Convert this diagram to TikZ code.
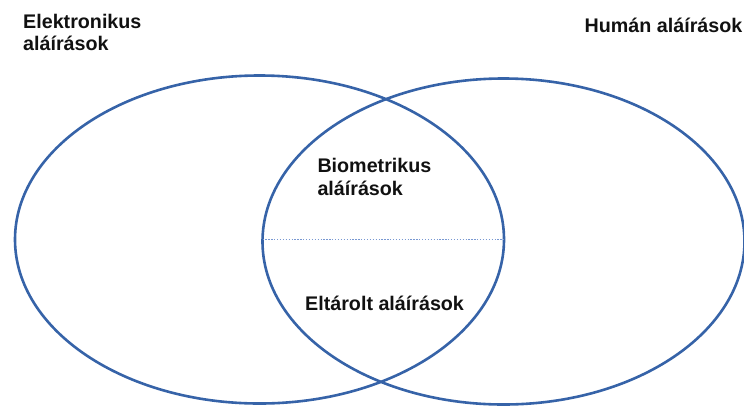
\documentclass[tikz,border=0pt]{standalone}
\usepackage{fontspec}
\setmainfont{Liberation Sans}
\usetikzlibrary{shapes.geometric}
\definecolor{setblue}{RGB}{54,99,168}
\definecolor{dividerblue}{RGB}{120,152,210}
\definecolor{labelink}{RGB}{17,17,17}
\begin{document}
\begin{tikzpicture}[x=1pt,y=-1pt,
  setoval/.style={ellipse,draw=setblue,line width=2.6pt,inner sep=0pt,outer sep=0pt},
  divider/.style={draw=dividerblue,line width=1.2pt,dash pattern=on 1.3pt off 1.6pt},
  setlabel/.style={anchor=base west,inner sep=0pt,align=left,text=labelink,
    font=\bfseries\fontsize{19.7}{22.6}\selectfont}]
  \useasboundingbox (0,0) rectangle (744,405);
  % the two sets
  \node[setoval,minimum width=489pt,minimum height=328pt] (L) at (259.5,239.5) {};
  \node[setoval,minimum width=482pt,minimum height=326pt] (R) at (503.5,241.5) {};
  % boundary between the two parts of the overlap
  \draw[divider] (R.west |- L.east) -- (L.east);
  % labels (placed by the baseline of their last line)
  \node[setlabel] (elab) at (23,50.7) {Elektronikus\\aláírások};
  \node[setlabel] (hlab) at (584.5,32.3) {Humán aláírások};
  \node[setlabel] (blab) at (317.3,195.5) {Biometrikus\\aláírások};
  \node[setlabel] (slab) at (305,310) {Eltárolt aláírások};
\end{tikzpicture}
\end{document}
